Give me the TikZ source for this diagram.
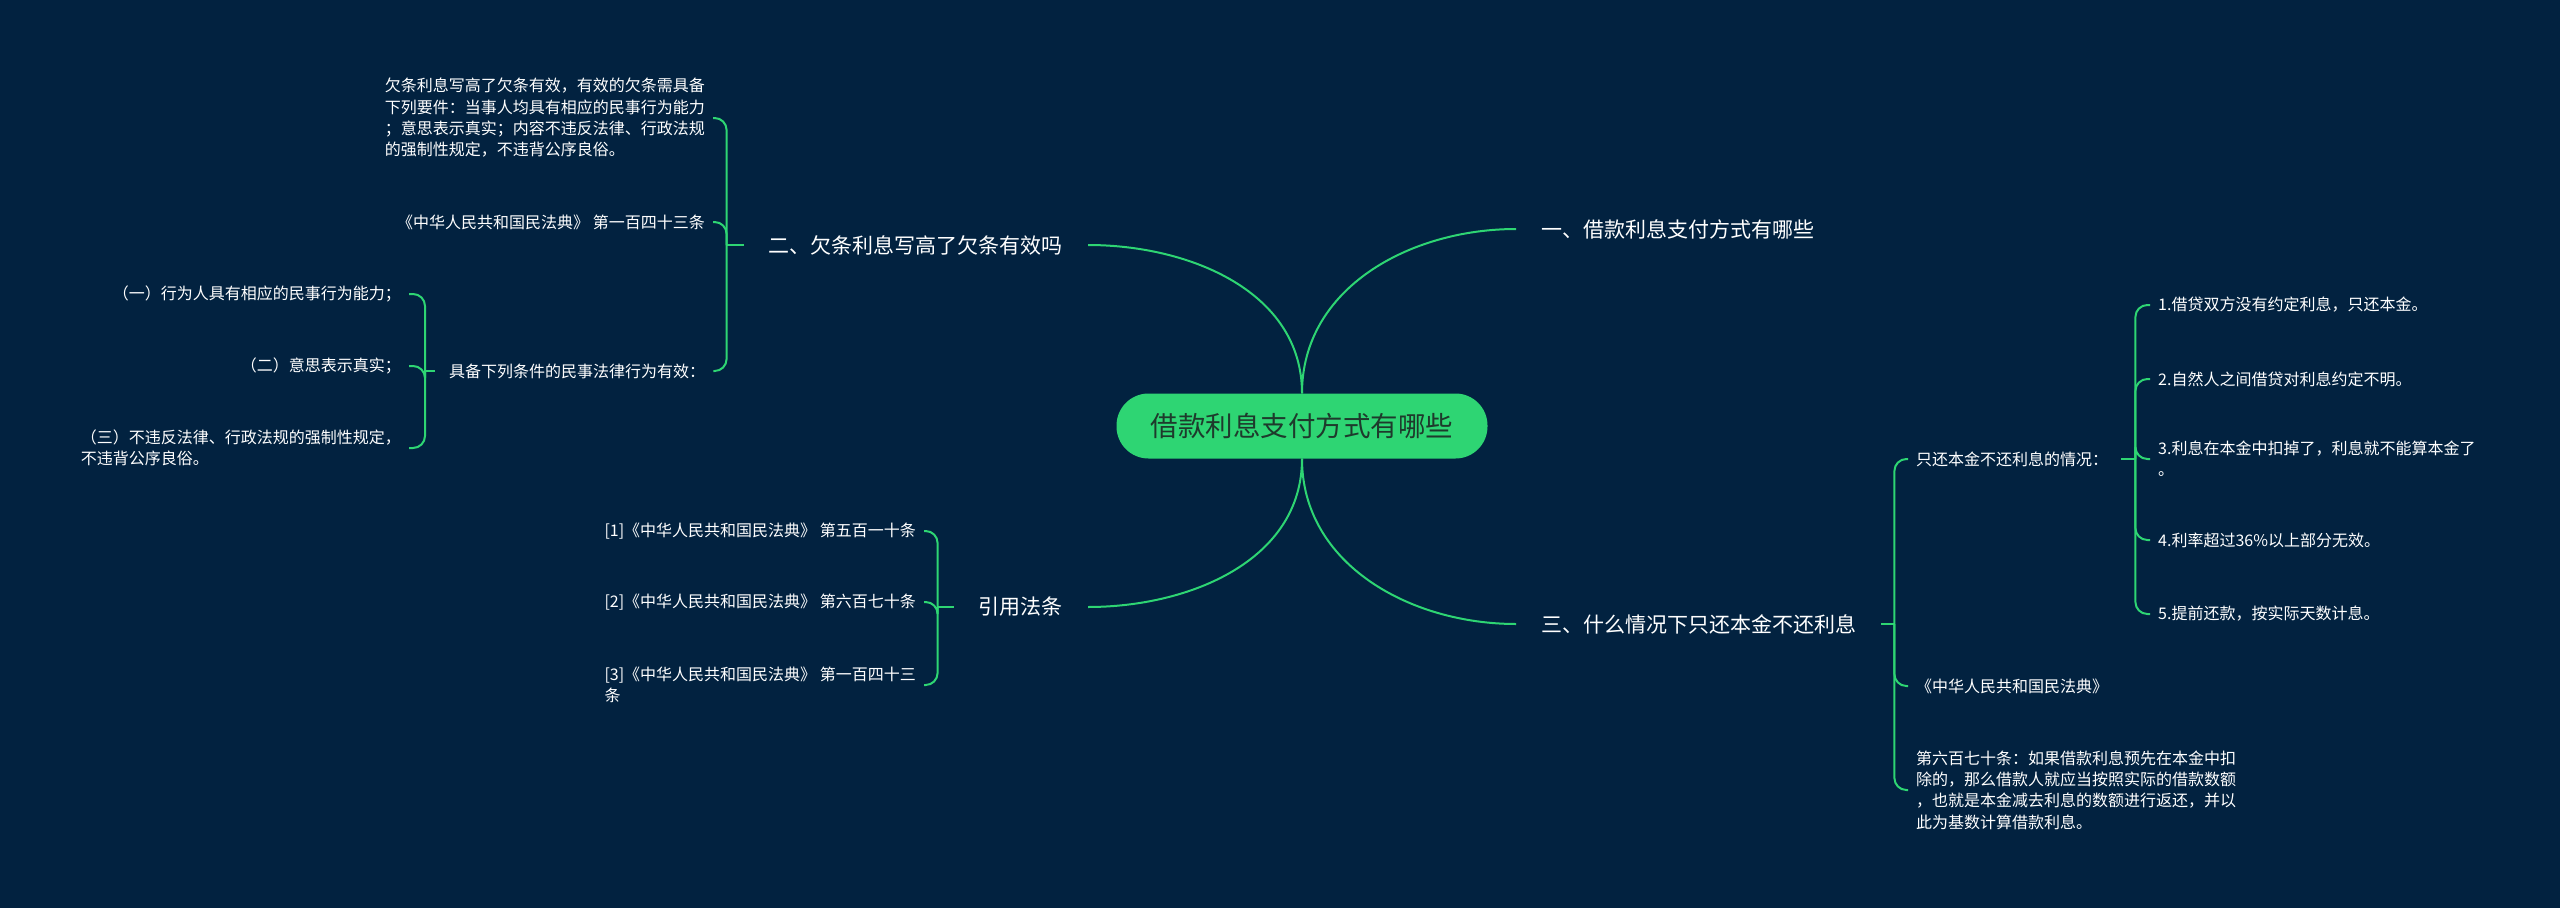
\documentclass[tikz,border=0pt]{standalone}
\usepackage{fontspec}
\newfontfamily\cjk{Noto Sans CJK SC}
\usetikzlibrary{calc}

\definecolor{navy}{HTML}{022240}
\definecolor{leafgreen}{HTML}{2ED573}
\definecolor{roottext}{HTML}{1E3A2C}

\tikzset{
  link/.style={draw=leafgreen, line width=2pt},
  topic/.style={text=white, font=\cjk\fontsize{21}{25}\selectfont, inner xsep=25pt, inner ysep=4pt},
  leaf/.style={text=white, font=\cjk\fontsize{16}{21.3}\selectfont, inner xsep=8pt, inner ysep=2pt, align=left},
}

\begin{document}
\begin{tikzpicture}[x=1pt, y=-1pt]
    \useasboundingbox (0,0) rectangle (2560,908);
    \fill[navy] (0,0) rectangle (2560,908);

    % centre
    \node[fill=leafgreen, text=roottext, rounded corners=32pt, minimum width=371pt, minimum height=65pt,
        font=\cjk\fontsize{27.5}{33}\selectfont] (root) at (1302,426) {借款利息支付方式有哪些};

    % main topics
    \node[topic, anchor=west] (one) at (1516,229) {一、借款利息支付方式有哪些};
    \node[topic, anchor=east] (two) at (1088,245) {二、欠条利息写高了欠条有效吗};
    \node[topic, anchor=west] (three) at (1516,624) {三、什么情况下只还本金不还利息};
    \node[topic, anchor=east] (cite) at (1088,607) {引用法条};

    \draw[link] (root.north) to[out=90, in=180] (one.west);
    \draw[link] (root.north) to[out=90, in=0] (two.east);
    \draw[link] (root.south) to[out=-90, in=180] (three.west);
    \draw[link] (root.south) to[out=-90, in=0] (cite.east);

    % 二
    \node[leaf, anchor=east] (q1) at (713,118) {欠条利息写高了欠条有效，有效的欠条需具备\\下列要件：当事人均具有相应的民事行为能力\\；意思表示真实；内容不违反法律、行政法规\\的强制性规定，不违背公序良俗。};
    \node[leaf, anchor=east] (q2) at (713,222) {《中华人民共和国民法典》 第一百四十三条};
    \node[leaf, anchor=west] (q3) at (441,371) {具备下列条件的民事法律行为有效：};
    \node[leaf, anchor=east] (r1) at (409,294) {（一）行为人具有相应的民事行为能力；};
    \node[leaf, anchor=east] (r2) at (409,366) {（二）意思表示真实；};
    \node[leaf, anchor=east] (r3) at (409,448) {（三）不违反法律、行政法规的强制性规定，\\不违背公序良俗。};

    \coordinate (j2) at ($(two.west)+(-17,0)$);
    \coordinate (jq) at ($(q3.west)+(-16,0)$);
    \draw[link] (two.west) -- (j2);
    \draw[link] ($(q3.west)+(-6,0)$) -- (jq);
    \foreach \c in {q1,q2,q3} \draw[link, rounded corners=12pt] (j2) |- (\c.east);
    \foreach \c in {r1,r2,r3} \draw[link, rounded corners=12pt] (jq) |- (\c.east);

    % 引用法条
    \node[leaf, anchor=east] (s1) at (924,531) {[1]《中华人民共和国民法典》 第五百一十条};
    \node[leaf, anchor=east] (s2) at (924,602) {[2]《中华人民共和国民法典》 第六百七十条};
    \node[leaf, anchor=east] (s3) at (924,685) {[3]《中华人民共和国民法典》 第一百四十三\\条};

    \coordinate (jc) at ($(cite.west)+(-16,0)$);
    \draw[link] (cite.west) -- (jc);
    \foreach \c in {s1,s2,s3} \draw[link, rounded corners=12pt] (jc) |- (\c.east);

    % 三
    \node[leaf, anchor=west] (t1) at (1908,459) {只还本金不还利息的情况：};
    \node[leaf, anchor=west] (t2) at (1908,686) {《中华人民共和国民法典》};
    \node[leaf, anchor=west] (t3) at (1908,790) {第六百七十条：如果借款利息预先在本金中扣\\除的，那么借款人就应当按照实际的借款数额\\，也就是本金减去利息的数额进行返还，并以\\此为基数计算借款利息。};
    \node[leaf, anchor=west] (u1) at (2150,305) {1.借贷双方没有约定利息，只还本金。};
    \node[leaf, anchor=west] (u2) at (2150,379) {2.自然人之间借贷对利息约定不明。};
    \node[leaf, anchor=west] (u3) at (2150,459) {3.利息在本金中扣掉了，利息就不能算本金了\\。};
    \node[leaf, anchor=west] (u4) at (2150,540) {4.利率超过36\%以上部分无效。};
    \node[leaf, anchor=west] (u5) at (2150,614) {5.提前还款，按实际天数计息。};

    \coordinate (j3) at ($(three.east)+(13,0)$);
    \coordinate (jt) at ($(t1.east)+(19,0)$);
    \draw[link] (three.east) -- (j3);
    \draw[link] ($(t1.east)+(5,0)$) -- (jt);
    \foreach \c in {t1,t2,t3} \draw[link, rounded corners=12pt] (j3) |- (\c.west);
    \foreach \c in {u1,u2,u3,u4,u5} \draw[link, rounded corners=12pt] (jt) |- (\c.west);
\end{tikzpicture}
\end{document}
